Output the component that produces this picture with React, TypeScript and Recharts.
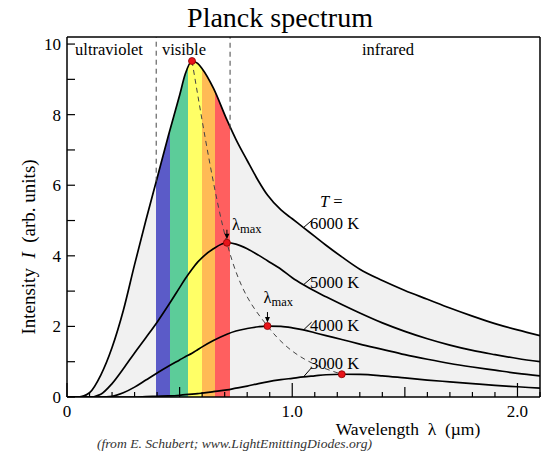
import React from 'react';
import { ComposedChart, Area, Line, XAxis, YAxis, ReferenceLine, ReferenceDot } from 'recharts';

// wavelength grid (µm) and curve heights
const wavelength = [0, 0.05, 0.1, 0.15, 0.2, 0.25, 0.3, 0.35, 0.4, 0.45, 0.5, 0.525, 0.555, 0.58, 0.6, 0.65, 0.71, 0.75, 0.8, 0.85, 0.89, 0.95, 1.0, 1.05, 1.1, 1.15, 1.22, 1.3, 1.4, 1.5, 1.6, 1.7, 1.8, 1.9, 2.0, 2.1];
const t6000 = [0, 0, 0.12, 0.62, 1.4, 2.45, 3.75, 5.0, 6.2, 7.4, 8.55, 9.15, 9.52, 9.45, 9.3, 8.75, 7.85, 7.3, 6.7, 6.12, 5.72, 5.3, 5.05, 4.8, 4.55, 4.3, 3.97, 3.62, 3.3, 3.02, 2.77, 2.52, 2.29, 2.08, 1.9, 1.74];
const t5000 = [0, 0, 0, 0.08, 0.38, 0.8, 1.25, 1.68, 2.12, 2.6, 3.1, 3.35, 3.62, 3.82, 3.95, 4.2, 4.37, 4.33, 4.2, 4.02, 3.86, 3.62, 3.38, 3.18, 3.0, 2.84, 2.62, 2.38, 2.1, 1.86, 1.65, 1.47, 1.32, 1.2, 1.09, 1.0];
const t4000 = [0, 0, 0, 0, 0.02, 0.12, 0.28, 0.48, 0.68, 0.87, 1.05, 1.14, 1.24, 1.34, 1.42, 1.6, 1.78, 1.87, 1.94, 1.99, 2.01, 2.0, 1.96, 1.9, 1.82, 1.74, 1.63, 1.5, 1.35, 1.2, 1.07, 0.95, 0.85, 0.76, 0.67, 0.6];
const t3000 = [0, 0, 0, 0, 0, 0, 0, 0.01, 0.02, 0.03, 0.05, 0.065, 0.08, 0.095, 0.11, 0.15, 0.2, 0.25, 0.31, 0.38, 0.43, 0.49, 0.53, 0.57, 0.6, 0.63, 0.645, 0.64, 0.6, 0.54, 0.48, 0.43, 0.38, 0.33, 0.29, 0.25];

// peaks (λmax) of each curve
const peakLambda = [0.555, 0.71, 0.89, 1.22];
const peakIntensity = [9.52, 4.37, 2.01, 0.645];

// visible spectrum bands
const bandEdges = [0.396, 0.458, 0.539, 0.6, 0.658, 0.724];
const bandColors = ['#5b5bc8', '#5ccc99', '#ffff66', '#ffbb55', '#ff5f5f'];

// uv / visible / ir dividers and where they meet the 6000 K curve
const dividerLambda = [0.396, 0.724];
const dividerCurve = [6.1, 7.6];

// temperature labels and the leader lines that point at their curves
const tempLabels = ['6000 K', '5000 K', '4000 K', '3000 K'];
const leaderLambda = [1.05, 1.05, 1.05, 1.05];
const leaderCurve = [4.8, 3.18, 1.9, 0.57];
const leaderTipLambda = [1.086, 1.086, 1.086, 1.087];
const leaderTipValue = [5.0, 3.38, 2.12, 0.84];

const xTicks = [0, 0.1, 0.2, 0.3, 0.4, 0.5, 0.6, 0.7, 0.8, 0.9, 1, 1.1, 1.2, 1.3, 1.4, 1.5, 1.6, 1.7, 1.8, 1.9, 2, 2.1];
const xTickLabels = ['0', '1.0', '2.0'];
const xLabelValues = [0, 1, 2];
const yTicks = [0, 1, 2, 3, 4, 5, 6, 7, 8, 9, 10];
const yLabelValues = [0, 2, 4, 6, 8, 10];

const X_MAX = 2.1;
const Y_MAX = 10.2;
const GRAY = '#f1f1f1';
const SERIF = '"Liberation Serif", "Times New Roman", serif';

const data = wavelength.map((x, i) => ({ x, t6000: t6000[i], t5000: t5000[i], t4000: t4000[i], t3000: t3000[i] }));
const locus = peakLambda.map((x, i) => ({ x, y: peakIntensity[i] }));

// arrow + "λmax" note next to the 5000 K and 4000 K peaks
const notes: any[] = [null, { tx: 5, ty: -13, a0: -13 }, { tx: -4, ty: -23, a0: -14 }, null];

const XTick = (props: any) => {
  const { x, y, payload } = props;
  const v = payload.value;
  const whole = Math.abs(v - Math.round(v)) < 1e-6;
  const half = Math.abs(v * 2 - Math.round(v * 2)) < 1e-6;
  const len = whole ? 14 : half ? 10 : 5;
  const li = xLabelValues.findIndex(l => Math.abs(l - v) < 1e-6);
  return (
    <g>
      <line x1={x} x2={x} y1={y} y2={y - len} stroke="#000" strokeWidth={1.2} />
      {li >= 0 && (
        <text x={x} y={y + 20} textAnchor="middle" fontSize={17} fontFamily={SERIF} fill="#000">{xTickLabels[li]}</text>
      )}
    </g>
  );
};

const YTick = (props: any) => {
  const { x, y, payload } = props;
  const v = payload.value;
  return (
    <g>
      <line x1={x} x2={x + 8} y1={y} y2={y} stroke="#000" strokeWidth={1.2} />
      {yLabelValues.includes(v) && (
        <text x={x - 6} y={y + 6} textAnchor="end" fontSize={17} fontFamily={SERIF} fill="#000">{v}</text>
      )}
    </g>
  );
};

const renderPeak = (p: any, i: number) => {
  const { cx, cy } = p;
  const n = notes[i];
  return (
    <g>
      {n && (
        <g>
          <line x1={cx} x2={cx} y1={cy + n.a0} y2={cy - 8} stroke="#000" strokeWidth={1} />
          <polygon points={`${cx - 2.5},${cy - 9} ${cx + 2.5},${cy - 9} ${cx},${cy - 3.5}`} fill="#000" />
          <text x={cx + n.tx} y={cy + n.ty} fontSize={16.5} fontFamily={SERIF} fill="#000">
            λ<tspan fontSize={12.5} dy={3}>max</tspan>
          </text>
        </g>
      )}
      <circle cx={cx} cy={cy} r={3.5} fill="#e8141a" stroke="#8a0000" strokeWidth={0.8} />
    </g>
  );
};

const txt = { fontFamily: SERIF, fill: '#000' };

export default function App() {
  return (
    <div style={{ position: 'absolute', left: 0, top: 0, width: 546, height: 454, fontFamily: SERIF }}>
      <ComposedChart width={546} height={454} data={data} margin={{ top: 36, right: 5, bottom: 56, left: 66 }}>
        <defs>
          <linearGradient id="spectrum" x1="0" y1="0" x2="1" y2="0">
            <stop offset={0} stopColor={GRAY} />
            {bandColors.map((c, i) => [
              <stop key={`a${i}`} offset={bandEdges[i] / X_MAX} stopColor={i === 0 ? GRAY : bandColors[i - 1]} />,
              <stop key={`b${i}`} offset={bandEdges[i] / X_MAX} stopColor={c} />,
            ])}
            <stop offset={bandEdges[5] / X_MAX} stopColor={bandColors[4]} />
            <stop offset={bandEdges[5] / X_MAX} stopColor={GRAY} />
            <stop offset={1} stopColor={GRAY} />
          </linearGradient>
        </defs>

        <XAxis dataKey="x" type="number" domain={[0, X_MAX]} ticks={xTicks} interval={0}
          height={1} tickSize={0} tickMargin={0} tickLine={false} tick={<XTick />}
          axisLine={{ stroke: '#000', strokeWidth: 1.5 }} allowDataOverflow />
        <XAxis xAxisId="top" orientation="top" dataKey="x" type="number" domain={[0, X_MAX]}
          height={1} tick={false} tickLine={false} axisLine={{ stroke: '#000', strokeWidth: 1.5 }} />
        <YAxis type="number" domain={[0, Y_MAX]} ticks={yTicks} interval={0} width={1}
          tickSize={0} tickMargin={0} tickLine={false} tick={<YTick />}
          axisLine={{ stroke: '#000', strokeWidth: 1.5 }} allowDataOverflow />
        <YAxis yAxisId="right" orientation="right" type="number" domain={[0, Y_MAX]} width={1}
          tick={false} tickLine={false} axisLine={{ stroke: '#000', strokeWidth: 1.5 }} />

        <Area dataKey="t6000" type="monotone" fill="url(#spectrum)" fillOpacity={1}
          stroke="#000" strokeWidth={1.7} dot={false} activeDot={false} isAnimationActive={false} />
        <Line dataKey="t5000" type="monotone" stroke="#000" strokeWidth={1.7} dot={false} activeDot={false} isAnimationActive={false} />
        <Line dataKey="t4000" type="monotone" stroke="#000" strokeWidth={1.7} dot={false} activeDot={false} isAnimationActive={false} />
        <Line dataKey="t3000" type="monotone" stroke="#000" strokeWidth={1.7} dot={false} activeDot={false} isAnimationActive={false} />
        <Line data={locus} dataKey="y" type="monotone" stroke="#444" strokeWidth={1} strokeDasharray="5 4"
          dot={false} activeDot={false} isAnimationActive={false} />

        <ReferenceLine segment={[{ x: dividerLambda[0], y: dividerCurve[0] }, { x: dividerLambda[0], y: Y_MAX }]}
          stroke="#444" strokeWidth={1} strokeDasharray="5 4" />
        <ReferenceLine segment={[{ x: dividerLambda[1], y: dividerCurve[1] }, { x: dividerLambda[1], y: Y_MAX }]}
          stroke="#444" strokeWidth={1} strokeDasharray="5 4" />
        <ReferenceLine segment={[{ x: leaderLambda[0], y: leaderCurve[0] }, { x: leaderTipLambda[0], y: leaderTipValue[0] }]} stroke="#000" strokeWidth={1} />
        <ReferenceLine segment={[{ x: leaderLambda[1], y: leaderCurve[1] }, { x: leaderTipLambda[1], y: leaderTipValue[1] }]} stroke="#000" strokeWidth={1} />
        <ReferenceLine segment={[{ x: leaderLambda[2], y: leaderCurve[2] }, { x: leaderTipLambda[2], y: leaderTipValue[2] }]} stroke="#000" strokeWidth={1} />
        <ReferenceLine segment={[{ x: leaderLambda[3], y: leaderCurve[3] }, { x: leaderTipLambda[3], y: leaderTipValue[3] }]} stroke="#000" strokeWidth={1} />

        <ReferenceDot x={peakLambda[0]} y={peakIntensity[0]} r={3.5} shape={(p: any) => renderPeak(p, 0)} />
        <ReferenceDot x={peakLambda[1]} y={peakIntensity[1]} r={3.5} shape={(p: any) => renderPeak(p, 1)} />
        <ReferenceDot x={peakLambda[2]} y={peakIntensity[2]} r={3.5} shape={(p: any) => renderPeak(p, 2)} />
        <ReferenceDot x={peakLambda[3]} y={peakIntensity[3]} r={3.5} shape={(p: any) => renderPeak(p, 3)} />
      </ComposedChart>

      {/* titles and annotations, drawn over the plot */}
      <svg width={546} height={454} style={{ position: 'absolute', left: 0, top: 0, pointerEvents: 'none' }}>
        <text x={280} y={27} textAnchor="middle" fontSize={28} {...txt}>Planck spectrum</text>
        <text x={109} y={55} textAnchor="middle" fontSize={16.5} {...txt}>ultraviolet</text>
        <text x={184} y={55} textAnchor="middle" fontSize={16.5} {...txt}>visible</text>
        <text x={388} y={55} textAnchor="middle" fontSize={16.5} {...txt}>infrared</text>
        <text x={320} y={207} fontSize={16.5} {...txt}><tspan fontStyle="italic">T</tspan> =</text>
        <text x={310} y={229} fontSize={16.5} {...txt}>{tempLabels[0]}</text>
        <text x={310} y={288} fontSize={16.5} {...txt}>{tempLabels[1]}</text>
        <text x={310} y={331} fontSize={16.5} {...txt}>{tempLabels[2]}</text>
        <text x={310} y={369} fontSize={16.5} {...txt}>{tempLabels[3]}</text>
        <text x={408} y={435} textAnchor="middle" fontSize={17.5} {...txt} style={{ whiteSpace: 'pre' }}>Wavelength  λ  (µm)</text>
        <text transform="translate(35 247) rotate(-90)" textAnchor="middle" fontSize={19} {...txt} style={{ whiteSpace: 'pre' }}>
          Intensity  <tspan fontStyle="italic">I</tspan>  (arb. units)
        </text>
        <text x={97} y={448} fontSize={12.5} fontStyle="italic" {...txt} fill="#333" textLength={275} lengthAdjust="spacingAndGlyphs">(from E. Schubert; www.LightEmittingDiodes.org)</text>
      </svg>
    </div>
  );
}
